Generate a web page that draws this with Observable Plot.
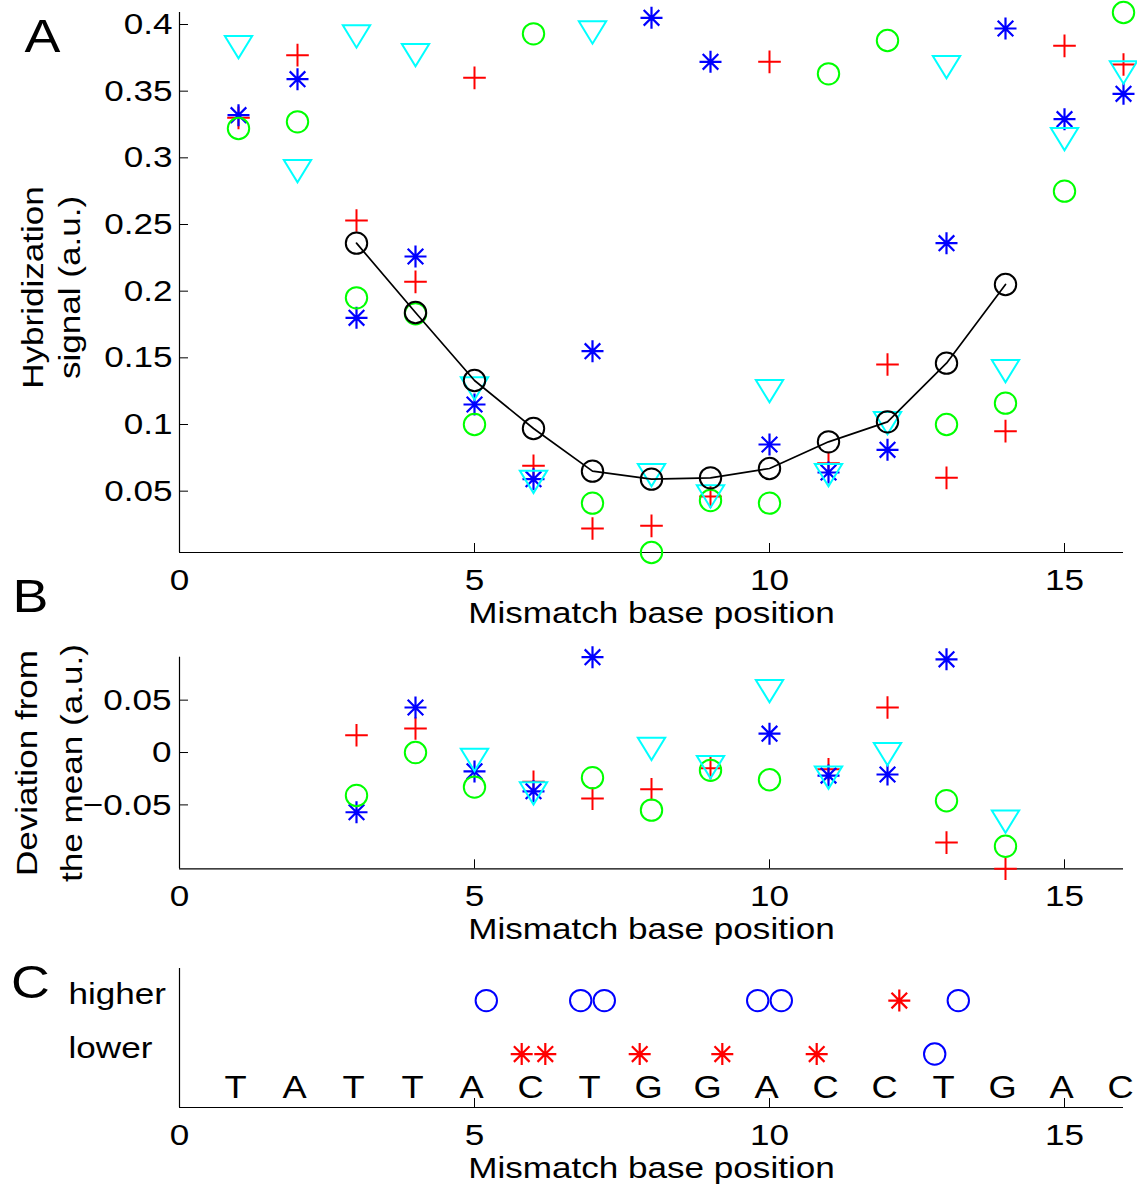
<!DOCTYPE html>
<html>
<head>
<meta charset="utf-8">
<script src="https://cdn.jsdelivr.net/npm/d3@7"></script>
<script src="https://cdn.jsdelivr.net/npm/@observablehq/plot@0.6"></script>
<style>
  html, body { margin: 0; padding: 0; background: #fff; }
  #fig { position: relative; width: 1137px; height: 1188px; background: #fff; }
  #fig svg { position: absolute; left: 0; overflow: visible; }
</style>
</head>
<body>
<div id="fig"></div>
<script>
// ---------------- DATA ----------------
const positions = [1, 2, 3, 4, 5, 6, 7, 8, 9, 10, 11, 12, 13, 14, 15, 16];

// Panel A: hybridization signal (a.u.) per mismatch position, four probe series
const redPlusA     = [0.330, 0.377, 0.253, 0.207, 0.360, 0.069, 0.022, 0.024, 0.046, 0.372, 0.071, 0.145, 0.060, 0.095, 0.384, 0.370];
const blueStarA    = [0.332, 0.359, 0.180, 0.226, 0.115, 0.059, 0.155, 0.405, 0.372, 0.085, 0.064, 0.081, 0.236, 0.397, 0.329, 0.348];
const greenCircleA = [0.322, 0.327, 0.195, 0.183, 0.100, 0.393, 0.041, 0.004, 0.043, 0.041, 0.363, 0.388, 0.100, 0.116, 0.275, 0.409];
const cyanTriA     = [0.383, 0.290, 0.391, 0.377, 0.127, 0.057, 0.394, 0.062, 0.046, 0.125, 0.062, 0.101, 0.368, 0.140, 0.314, 0.364];
const meanA        = [null, null, 0.236, 0.184, 0.133, 0.097, 0.065, 0.059, 0.060, 0.067, 0.087, 0.102, 0.146, 0.205, null, null];

// Panel B: deviation from the mean (a.u.), positions 3..14 (null = outside the plotted range)
const devPositions = [3, 4, 5, 6, 7, 8, 9, 10, 11, 12, 13, 14];
const redPlusB     = [0.0165, 0.023, null, -0.028, -0.044, -0.035, -0.015, null, -0.016, 0.043, -0.086, -0.111];
const blueStarB    = [-0.057, 0.043, -0.018, -0.037, 0.091, null, null, 0.018, -0.022, -0.021, 0.089, null];
const greenCircleB = [-0.041, 0.000, -0.033, null, -0.024, -0.055, -0.017, -0.026, null, null, -0.046, -0.0895];
const cyanTriB     = [null, null, -0.007, -0.039, null, 0.0035, -0.014, 0.0586, -0.024, -0.0015, null, -0.066];

// Panel C: positions of "higher" / "lower" marks and the sequence
const higherBlue = [5.2, 6.8, 7.2, 9.8, 10.2, 13.2];
const higherRed  = [12.2];
const lowerRed   = [5.8, 6.2, 7.8, 9.2, 10.8];
const lowerBlue  = [12.8];
const sequence   = ["T", "A", "T", "T", "A", "C", "T", "G", "G", "A", "C", "C", "T", "G", "A", "C"];
const rowLabels  = ["lower", "higher"];
const rowValues  = [1, 2];

// Ticks and labels
const xTicks  = [0, 5, 10, 15];
const yTicksA = [0.05, 0.1, 0.15, 0.2, 0.25, 0.3, 0.35, 0.4];
const yTicksB = [-0.05, 0, 0.05];
const xLabel  = "Mismatch base position";
const yLabelA = "Hybridization\nsignal (a.u.)";
const yLabelB = "Deviation from\nthe mean (a.u.)";

// ---------------- STYLE ----------------
const W = 1137;
const RED = "#ff0000", BLUE = "#0000ff", GREEN = "#00ff00", CYAN = "#00ffff";
const FONT = "'Liberation Sans', Arial, Helvetica, sans-serif";
const STRETCH = 1.17;
const xDomain = [0, 16];
const yDomainA = [0.004, 0.409];
const yDomainB = [-0.111, 0.091];
const yDomainC = [0, 2.6];

const symPlus = {draw(ctx, size) {
  const r = Math.sqrt(size / Math.PI);
  ctx.moveTo(-r, 0); ctx.lineTo(r, 0); ctx.moveTo(0, -r); ctx.lineTo(0, r);
}};
const symStar = {draw(ctx, size) {
  const r = Math.sqrt(size / Math.PI), d = r * 0.71;
  ctx.moveTo(-r, 0); ctx.lineTo(r, 0); ctx.moveTo(0, -r); ctx.lineTo(0, r);
  ctx.moveTo(-d, -d); ctx.lineTo(d, d); ctx.moveTo(-d, d); ctx.lineTo(d, -d);
}};
const symTriDown = {draw(ctx, size) {
  const r = Math.sqrt(size / Math.PI), w = r * 1.22;
  ctx.moveTo(-w, -r); ctx.lineTo(w, -r); ctx.lineTo(0, r); ctx.closePath();
}};

const rows = (xs, ys) => xs.map((x, i) => ({x, y: ys[i]})).filter(d => d.y != null);
const pts = (xs, yv) => xs.map(x => ({x, y: yv}));
const fmtA = d => String(+d.toFixed(2));
const fmtB = d => d === 0 ? "0" : (d < 0 ? "\u2212" : "") + Math.abs(d).toFixed(2);

const baseStyle = {fontFamily: FONT, fontSize: "30px", background: "white", overflow: "visible", color: "black"};
const centered = {textAnchor: "middle", lineAnchor: "middle"};

function markers(xs, red, blue, green, cyan) {
  return [
    Plot.dot(rows(xs, red),   {x: "x", y: "y", symbol: symPlus,    r: 11.3, stroke: RED,   fill: "none", strokeWidth: 2}),
    Plot.dot(rows(xs, blue),  {x: "x", y: "y", symbol: symStar,    r: 11,   stroke: BLUE,  fill: "none", strokeWidth: 2.2}),
    Plot.dot(rows(xs, green), {x: "x", y: "y", symbol: "circle",   r: 10.7, stroke: GREEN, fill: "none", strokeWidth: 2}),
    Plot.dot(rows(xs, cyan),  {x: "x", y: "y", symbol: symTriDown, r: 11.2, stroke: CYAN,  fill: "none", strokeWidth: 2})
  ];
}

function stretchText(svg, s) {
  svg.querySelectorAll("text").forEach(t => {
    const x = parseFloat(t.getAttribute("x")) || 0;
    const tr = t.getAttribute("transform") || "";
    t.setAttribute("transform", `${tr} translate(${x},0) scale(${s},1) translate(${-x},0)`);
  });
}

// ---------------- PANEL A ----------------
const plotA = Plot.plot({
  width: W, height: 640,
  marginTop: 12, marginBottom: 88, marginLeft: 179, marginRight: 14,
  x: {domain: xDomain}, y: {domain: yDomainA},
  style: baseStyle,
  marks: [
    Plot.ruleX([xDomain[0]], {stroke: "black", strokeWidth: 1.2}),
    Plot.ruleY([yDomainA[0]], {stroke: "black", strokeWidth: 1.2}),
    Plot.axisX({ticks: xTicks, tickSize: -9, tickPadding: 25, label: null, fontSize: 30}),
    Plot.axisY({ticks: yTicksA, tickSize: -9, tickPadding: 16, tickFormat: fmtA, label: null, fontSize: 30}),
    ...markers(positions, redPlusA, blueStarA, greenCircleA, cyanTriA),
    Plot.line(rows(positions, meanA), {x: "x", y: "y", stroke: "black", strokeWidth: 1.7}),
    Plot.dot(rows(positions, meanA), {x: "x", y: "y", symbol: "circle", r: 10.7, stroke: "black", fill: "none", strokeWidth: 2}),
    Plot.text([xLabel], {text: d => d, frameAnchor: "bottom", dy: 61, fontSize: 30, ...centered}),
    Plot.text([yLabelA], {text: d => d, frameAnchor: "left", rotate: -90, dx: -130, dy: 5, lineHeight: 1.233, fontSize: 30, ...centered}),
    Plot.text(["A"], {text: d => d, frameAnchor: "top-left", dx: -137, dy: 25, fontSize: 46, ...centered})
  ]
});

// ---------------- PANEL B ----------------
const plotB = Plot.plot({
  width: W, height: 310,
  marginTop: 16.7, marginBottom: 81.7, marginLeft: 179, marginRight: 14,
  x: {domain: xDomain}, y: {domain: yDomainB},
  style: baseStyle,
  marks: [
    Plot.ruleX([xDomain[0]], {stroke: "black", strokeWidth: 1.2}),
    Plot.ruleY([yDomainB[0]], {stroke: "black", strokeWidth: 1.2}),
    Plot.axisX({ticks: xTicks, tickSize: -9, tickPadding: 25, label: null, fontSize: 30}),
    Plot.axisY({ticks: yTicksB, tickSize: -9, tickPadding: 17, tickFormat: fmtB, label: null, fontSize: 30}),
    ...markers(devPositions, redPlusB, blueStarB, greenCircleB, cyanTriB),
    Plot.text([xLabel], {text: d => d, frameAnchor: "bottom", dy: 61, fontSize: 30, ...centered}),
    Plot.text([yLabelB], {text: d => d, frameAnchor: "left", rotate: -90, dx: -134, dy: 0, lineHeight: 1.5, fontSize: 30, ...centered}),
    Plot.text(["B"], {text: d => d, frameAnchor: "top-left", dx: -149, dy: -60, fontSize: 46, ...centered})
  ]
});

// ---------------- PANEL C ----------------
const plotC = Plot.plot({
  width: W, height: 238,
  marginTop: 18, marginBottom: 81, marginLeft: 179, marginRight: 14,
  x: {domain: xDomain}, y: {domain: yDomainC},
  style: baseStyle,
  marks: [
    Plot.ruleX([xDomain[0]], {stroke: "black", strokeWidth: 1.2}),
    Plot.ruleY([yDomainC[0]], {stroke: "black", strokeWidth: 1.2}),
    Plot.axisX({ticks: xTicks, tickSize: -9, tickPadding: 25, label: null, fontSize: 30}),
    Plot.axisY({ticks: rowValues, tickFormat: (d, i) => rowLabels[i], tickSize: 0, tickPadding: 111, textAnchor: "start", dy: -6, label: null, fontSize: 30}),
    Plot.dot(pts(higherBlue, rowValues[1]), {x: "x", y: "y", symbol: "circle", r: 10.7, stroke: BLUE, fill: "none", strokeWidth: 2}),
    Plot.dot(pts(higherRed, rowValues[1]),  {x: "x", y: "y", symbol: symStar, r: 11, stroke: RED, fill: "none", strokeWidth: 2.2}),
    Plot.dot(pts(lowerRed, rowValues[0]),   {x: "x", y: "y", symbol: symStar, r: 11, stroke: RED, fill: "none", strokeWidth: 2.2}),
    Plot.dot(pts(lowerBlue, rowValues[0]),  {x: "x", y: "y", symbol: "circle", r: 10.7, stroke: BLUE, fill: "none", strokeWidth: 2}),
    Plot.text(sequence, {x: (d, i) => positions[i], text: d => d, frameAnchor: "bottom", textAnchor: "middle", lineAnchor: "bottom", dx: -3, dy: -10, fontSize: 31}),
    Plot.text([xLabel], {text: d => d, frameAnchor: "bottom", dy: 61, fontSize: 30, ...centered}),
    Plot.text(["C"], {text: d => d, frameAnchor: "top-left", dx: -149, dy: 15, fontSize: 46, ...centered})
  ]
});

const fig = document.getElementById("fig");
[[plotA, 0], [plotB, 640], [plotC, 950]].forEach(([p, top]) => {
  stretchText(p, STRETCH);
  p.style.top = top + "px";
  fig.appendChild(p);
});
</script>
</body>
</html>
